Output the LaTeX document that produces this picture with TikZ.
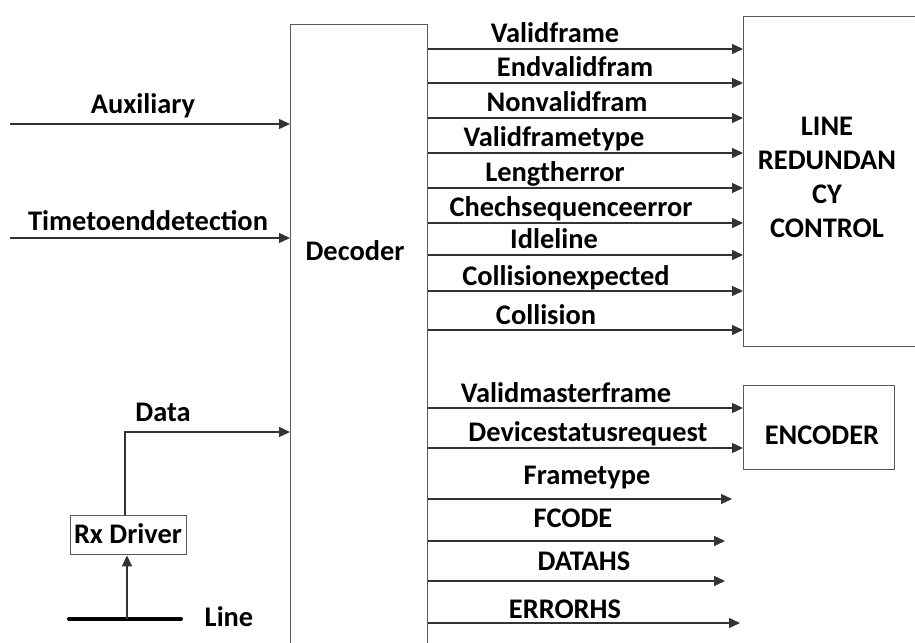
\documentclass[tikz,border=0pt]{standalone}
\usepackage{fontspec}
\setmainfont{Carlito}
\usetikzlibrary{arrows.meta}
\begin{document}
\begin{tikzpicture}[x=1bp,y=-1bp,
  lbl/.style={font=\bfseries\fontsize{28.5}{34}\selectfont, inner sep=0pt, anchor=base},
  box/.style={draw=black!65, line width=1.4bp, inner sep=0pt},
  arr/.style={draw=black!80, line width=1.3bp, -{Triangle[length=11bp,width=10bp]}},
  wire/.style={draw=black!80, line width=1.3bp}]
\useasboundingbox (0,0) rectangle (915,643);
\clip (0,0) rectangle (915,643);
% boxes
\node[box, minimum width=137bp, minimum height=640bp, anchor=north west] (dec) at (290,24) {};
\node[lbl] (declbl) at (355,260.5) {Decoder};
\node[box, minimum width=220bp, minimum height=330bp, anchor=north west] (lrc) at (743,16) {};
\node[lbl, align=center, anchor=north] (lrclbl) at (827,117) {LINE\\REDUNDAN\\CY\\CONTROL};
\node[box, minimum width=151bp, minimum height=84bp, anchor=north west] (enc) at (743,385) {};
\node[lbl] (enclbl) at (822,444.5) {ENCODER};
\node[box, minimum width=116bp, minimum height=39bp, anchor=north west] (rxbox) at (70,515) {};
\node[lbl] (rx) at (128,543) {Rx Driver};
% left inputs
\coordinate (auxs) at (10,124);
\coordinate (ttes) at (10,238);
\draw[arr] (auxs) -- (auxs -| dec.west);
\node[lbl] (auxl) at (143,113.5) {Auxiliary};
\draw[arr] (ttes) -- (ttes -| dec.west);
\node[lbl] (ttel) at (148,230.5) {Timetoenddetection};
\coordinate (datac) at (125,432);
\draw[arr] (rxbox.north -| datac) -- (datac) -- (datac -| dec.west);
\node[lbl] (datal) at (163,421.5) {Data};
% line
\coordinate (lineL) at (69,619);
\coordinate (lineR) at (181,619);
\coordinate (lineM) at (127,619);
\draw[black, line width=4bp, line cap=round] (lineL) -- (lineR);
\draw[arr] (lineM) -- (lineM |- rxbox.south);
\node[lbl] (linel) at (229,626.5) {Line};
% outputs to LRC
\foreach \y/\x/\t in {49/555/Validframe, 83/575/Endvalidfram, 118/567/Nonvalidfram,
  153/554/Validframetype, 188/555/Lengtherror, 223/571/Chechsequenceerror,
  255/554/Idleline, 291/566/Collisionexpected, 330/546/Collision}{
  \draw[arr] (dec.east |- 0,\y) -- (lrc.west |- 0,\y);
  \node[lbl] at (\x,\y-6) {\t};
}
% outputs to encoder
\draw[arr] (dec.east |- 0,408) -- (enc.west |- 0,408);
\node[lbl] (vmf) at (566,402.5) {Validmasterframe};
\draw[arr] (dec.east |- 0,448) -- (enc.west |- 0,448);
\node[lbl] (dsr) at (588,441.5) {Devicestatusrequest};
% free outputs
\coordinate (ft) at (732,499);
\coordinate (fc) at (725,541);
\coordinate (dh) at (725,581);
\coordinate (eh) at (740,623);
\draw[arr] (dec.east |- ft) -- (ft);
\node[lbl] (ftl) at (587,484.5) {Frametype};
\draw[arr] (dec.east |- fc) -- (fc);
\node[lbl] (fcl) at (573,527.5) {FCODE};
\draw[arr] (dec.east |- dh) -- (dh);
\node[lbl] (dhl) at (584,570.5) {DATAHS};
\draw[arr] (dec.east |- eh) -- (eh);
\node[lbl] (ehl) at (565,618.5) {ERRORHS};
\end{tikzpicture}
\end{document}
